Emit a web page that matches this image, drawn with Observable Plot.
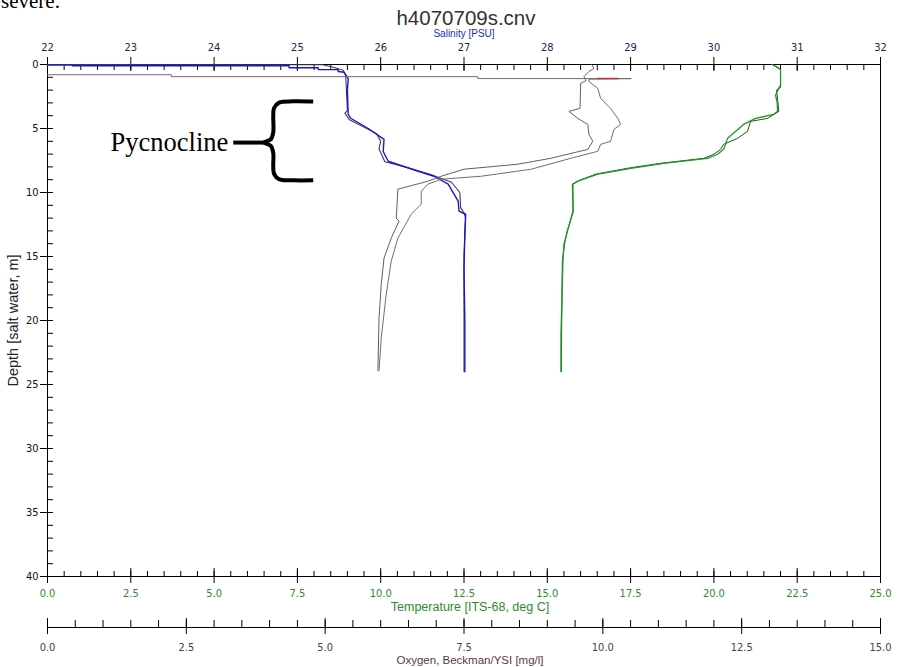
<!DOCTYPE html>
<html><head><meta charset="utf-8">
<script src="https://cdn.jsdelivr.net/npm/d3@7"></script>
<script src="https://cdn.jsdelivr.net/npm/@observablehq/plot@0.6"></script>
<style>
body{margin:0;background:#fff;}
#wrap{position:relative;width:902px;height:667px;overflow:hidden;background:#fff;}
#wrap svg{position:absolute;left:0;top:0;}
#severe{position:absolute;left:1px;top:-9px;font:21px "Liberation Serif","Times New Roman",serif;color:#000;line-height:1;}
</style></head><body><div id="wrap"><div id="severe">severe.</div></div>
<script>
// ---------- data: [depth (m), value] ----------
const salinityDown = [[0.05,22.0],[0.05,22.3],[0.1,22.3],[0.1,24.9],[0.25,24.9],[0.25,25.25],[0.4,25.25],[0.4,25.49],[0.55,25.49],[0.6,25.56],[1.1,25.61],[2.0,25.60],[3.9,25.61],[4.2,25.64],[5.0,25.85],[5.85,26.04],[6.8,26.03],[7.56,26.09],[8.34,26.45],[8.73,26.64],[9.35,26.81],[10.68,26.93],[11.46,26.94],[11.7,27.02],[13.0,27.01],[16.1,27.0],[20.0,27.01],[24.0,27.01]];
const salinityUp = [[0.0,22.0],[0.02,25.3],[0.2,25.42],[0.45,25.55],[0.9,25.58],[3.6,25.6],[3.8,25.57],[4.3,25.62],[5.4,25.95],[6.0,26.0],[6.6,25.98],[7.6,26.05],[8.1,26.35],[8.6,26.6],[9.2,26.85],[10.0,26.95],[11.2,26.96],[11.6,27.0],[12.0,27.02],[15.0,27.0],[24.0,27.0]];
const temperatureDown = [[0.0,21.75],[0.2,21.9],[0.4,22.0],[1.6,22.0],[1.9,21.94],[2.4,21.85],[3.0,21.9],[3.66,21.91],[3.9,21.79],[4.21,21.25],[4.68,20.89],[5.77,20.41],[6.63,20.29],[7.01,20.11],[7.33,19.81],[7.72,18.49],[8.11,17.51],[8.57,16.52],[9.12,15.92],[9.35,15.77],[11.46,15.77],[12.86,15.62],[14.03,15.5],[15.35,15.47],[21.04,15.41],[24.0,15.41]];
const temperatureUp = [[0.0,21.75],[0.4,22.0],[1.8,22.0],[2.0,21.88],[2.9,21.92],[3.66,21.95],[4.21,21.61],[4.44,21.1],[5.22,21.01],[5.77,20.71],[6.24,20.29],[6.63,20.2],[7.01,20.0],[7.33,19.7],[7.72,18.4],[8.11,17.4],[8.57,16.45],[9.12,15.9],[9.35,15.75],[11.5,15.78],[13.0,15.6],[14.0,15.52],[15.4,15.45],[24.0,15.42]];
const oxygenA = [[0.0,9.8],[0.3,9.84],[0.55,9.75],[0.94,9.66],[1.25,9.7],[1.48,9.6],[3.43,9.59],[3.66,9.39],[4.21,9.55],[4.68,9.73],[5.46,9.75],[6.0,9.82],[6.63,9.73],[7.33,9.06],[7.79,8.47],[8.18,7.5],[8.73,7.09],[9.12,6.85],[9.74,6.31],[12.0,6.28],[12.24,6.33],[13.56,6.19],[15.12,6.06],[17.15,6.01],[19.8,5.97],[23.93,5.95]];
const oxygenB = [[0.8,0.0],[0.8,2.23],[0.95,2.23],[0.95,7.75],[1.1,7.75],[1.1,10.51],[1.15,9.75],[1.33,9.75],[1.87,9.91],[2.65,9.96],[3.43,10.14],[4.21,10.27],[4.68,10.32],[5.07,10.2],[6.0,10.14],[6.24,9.96],[6.78,9.91],[7.33,9.42],[8.18,8.71],[8.73,7.81],[8.96,7.09],[9.35,6.85],[9.9,6.73],[10.91,6.73],[11.69,6.55],[13.56,6.31],[15.35,6.19],[17.93,6.1],[21.36,6.01],[23.93,5.97]];
const oxygenMark = [[1.1,9.9],[1.1,10.27]];

// ---------- ticks / labels ----------
const salinityTicks = d3.range(22, 33, 1);
const salinityMinor = d3.range(22, 32.001, 0.2);
const temperatureTicks = d3.range(0, 25.001, 2.5);
const temperatureMinor = d3.range(0, 25.001, 0.5);
const oxygenTicks = d3.range(0, 15.001, 2.5);
const oxygenMinor = d3.range(0, 15.001, 0.5);
const depthTicks = d3.range(0, 41, 5);
const depthMinor = d3.range(0, 41, 1);
const title = "h4070709s.cnv";
const salinityLabel = "Salinity [PSU]";
const temperatureLabel = "Temperature [ITS-68, deg C]";
const oxygenLabel = "Oxygen, Beckman/YSI [mg/l]";
const depthLabel = "Depth [salt water, m]";
const pycnocline = {label: "Pycnocline", top: 2.9, mid: 6.1, bottom: 9.05};

// ---------- layout ----------
const narrow = '"Liberation Sans Narrow","Arial Narrow","DejaVu Sans Condensed",sans-serif';
const sans = '"Liberation Sans",Arial,sans-serif';
const serif = '"Liberation Serif","Times New Roman",serif';
const base = {width: 902, height: 667, marginLeft: 47, marginRight: 22, marginTop: 64, marginBottom: 91,
  style: {background: "transparent", fontFamily: sans, overflow: "visible"}};
const yDepth = {domain: [0, 40], reverse: true};
const px = d => d[1], py = d => d[0];

// brace built from the pycnocline depth range (annotation in salinity/depth space)
const bTip = 24.60, bStem = 24.71, bEnd = 25.19;
const p = pycnocline;
const brace = [[bEnd,p.top],[24.95,p.top-0.02],[24.78,p.top+0.08],[bStem+0.01,p.top+0.5],[bStem,p.top+1.1],
  [bStem,p.mid-0.8],[24.68,p.mid-0.25],[bTip,p.mid],[24.68,p.mid+0.25],[bStem,p.mid+0.8],
  [bStem,p.bottom-1.1],[bStem+0.01,p.bottom-0.5],[24.78,p.bottom-0.08],[24.95,p.bottom],[bEnd,p.bottom]];

const wrap = document.getElementById("wrap");

// Salinity + depth frame
const plotSal = Plot.plot({...base,
  x: {domain: [22, 32]}, y: yDepth,
  marks: [
    Plot.frame({stroke: "#000"}),
    Plot.axisX(salinityTicks, {anchor: "top", tickSize: 8, tickPadding: 6, fontSize: 11, fontFamily: narrow, fill: "#1c2654", stroke: "#000", label: null, tickFormat: d => String(d)}),
    Plot.axisX(salinityTicks, {anchor: "top", tickSize: -6, fill: "none", stroke: "#000", label: null}),
    Plot.axisX(salinityMinor, {anchor: "top", tickSize: -5, fill: "none", stroke: "#000", label: null}),
    Plot.axisY(depthTicks, {anchor: "left", tickSize: 7, tickPadding: 2, fontSize: 11, fontFamily: narrow, fill: "#111", stroke: "#000", label: null, tickFormat: d => String(d)}),
    Plot.axisY(depthTicks, {anchor: "left", tickSize: -6, fill: "none", stroke: "#000", label: null}),
    Plot.axisY(depthMinor, {anchor: "left", tickSize: -6, fill: "none", stroke: "#000", label: null}),
    Plot.text([title], {frameAnchor: "top", lineAnchor: "middle", dx: 2, dy: -46, fontSize: 20.5, fill: "#333", fontFamily: sans}),
    Plot.text([salinityLabel], {frameAnchor: "top", lineAnchor: "middle", dy: -31, fontSize: 10, fill: "#2030b0", fontFamily: sans}),
    Plot.text([depthLabel], {frameAnchor: "left", lineAnchor: "middle", textAnchor: "middle", dx: -34, rotate: -90, fontSize: 14.5, fill: "#222", fontFamily: sans}),
    Plot.line(salinityUp, {x: px, y: py, stroke: "#3a3a66", strokeWidth: 1.1}),
    Plot.line(salinityDown, {x: px, y: py, stroke: "#1818c8", strokeWidth: 1.4}),
    Plot.line(brace, {x: d => d[0], y: d => d[1], curve: "catmull-rom", stroke: "#000", strokeWidth: 4, strokeLinecap: "butt"}),
    Plot.link([pycnocline], {x1: 24.23, x2: bTip, y1: d => d.mid, y2: d => d.mid, stroke: "#000", strokeWidth: 4}),
    Plot.text([pycnocline], {x: 24.17, y: d => d.mid, text: d => d.label, textAnchor: "end", fontSize: 26.5, fontFamily: serif, fill: "#000"})
  ]});
wrap.appendChild(plotSal);

// Temperature
const plotTemp = Plot.plot({...base,
  x: {domain: [0, 25]}, y: {...yDepth, axis: null},
  marks: [
    Plot.axisX(temperatureTicks, {anchor: "bottom", tickSize: 7, tickPadding: 6, fontSize: 11, fontFamily: narrow, fill: "#2e8a2e", stroke: "#000", label: null, tickFormat: d3.format(".1f")}),
    Plot.axisX(temperatureTicks, {anchor: "bottom", tickSize: -8, fill: "none", stroke: "#000", label: null}),
    Plot.axisX(temperatureMinor, {anchor: "bottom", tickSize: -5, fill: "none", stroke: "#000", label: null}),
    Plot.text([temperatureLabel], {frameAnchor: "bottom", lineAnchor: "middle", dx: 6, dy: 30, fontSize: 12.5, fill: "#2e8a2e", fontFamily: sans}),
    Plot.line(temperatureUp, {x: px, y: py, stroke: "#2c4a2c", strokeWidth: 1}),
    Plot.line(temperatureDown, {x: px, y: py, stroke: "#1e9a1e", strokeWidth: 1.3})
  ]});
wrap.appendChild(plotTemp);

// Oxygen
const plotOx = Plot.plot({...base,
  x: {domain: [0, 15]}, y: {...yDepth, axis: null},
  marks: [
    Plot.ruleY([40], {dy: 51, stroke: "#000"}),
    Plot.axisX(oxygenTicks, {anchor: "bottom", dy: 51, tickSize: 7, tickPadding: 9, fontSize: 11, fontFamily: narrow, fill: "#444", stroke: "#000", label: null, tickFormat: d3.format(".1f")}),
    Plot.axisX(oxygenTicks, {anchor: "bottom", dy: 51, tickSize: -9, fill: "none", stroke: "#000", label: null}),
    Plot.axisX(oxygenMinor, {anchor: "bottom", dy: 51, tickSize: -7, fill: "none", stroke: "#000", label: null}),
    Plot.text([oxygenLabel], {frameAnchor: "bottom", lineAnchor: "middle", dx: 6, dy: 84, fontSize: 11.5, fill: "#5a3a3a", fontFamily: sans}),
    Plot.line(oxygenA, {x: px, y: py, stroke: "#6e5c5c", strokeWidth: 1}),
    Plot.line(oxygenB, {x: px, y: py, stroke: "#7a6a6a", strokeWidth: 1}),
    Plot.line(oxygenMark, {x: px, y: py, stroke: "#c03838", strokeWidth: 1.5})
  ]});
wrap.appendChild(plotOx);
</script></body></html>
